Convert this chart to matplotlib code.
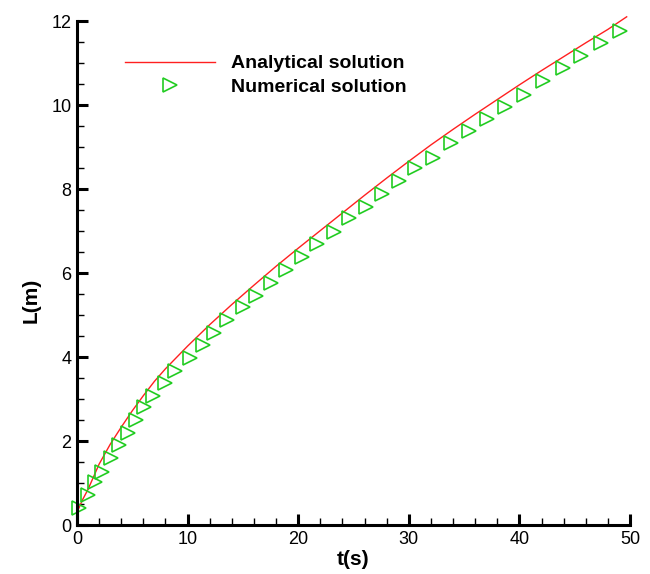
import matplotlib
matplotlib.use("Agg")
import matplotlib.pyplot as plt
from matplotlib.ticker import MultipleLocator

plt.rcParams['font.family'] = ['Liberation Sans', 'DejaVu Sans']

# Analytical solution
t_ana = [0, 0.5, 1, 2, 3, 4, 5, 6, 7, 8, 10, 12, 14, 16, 18, 20, 22, 24, 26, 28,
         30, 32, 34, 36, 38, 40, 42, 44, 46, 48, 49.7]
L_ana = [0.3, 0.6, 0.85, 1.45, 1.92, 2.33, 2.72, 3.08, 3.42, 3.72, 4.26, 4.77, 5.25,
         5.71, 6.16, 6.59, 7.01, 7.43, 7.85, 8.26, 8.66, 9.05, 9.42, 9.78, 10.13,
         10.48, 10.82, 11.15, 11.48, 11.8, 12.1]

# Numerical solution
t_num = [0.2, 1.0, 1.6, 2.3, 3.1, 3.8, 4.6, 5.3, 6.1, 6.9, 8.0, 8.9, 10.2, 11.4,
         12.4, 13.6, 15.0, 16.2, 17.5, 18.9, 20.3, 21.7, 23.2, 24.6, 26.1, 27.6,
         29.1, 30.6, 32.2, 33.8, 35.4, 37.1, 38.7, 40.4, 42.1, 43.9, 45.6, 47.4, 49.1]
L_num = [0.40, 0.71, 1.02, 1.27, 1.59, 1.90, 2.18, 2.50, 2.80, 3.08, 3.37, 3.67,
         3.97, 4.29, 4.58, 4.88, 5.20, 5.45, 5.77, 6.07, 6.37, 6.68, 6.98, 7.30,
         7.58, 7.88, 8.19, 8.49, 8.75, 9.09, 9.37, 9.66, 9.96, 10.25, 10.57, 10.87,
         11.17, 11.47, 11.77]

fig = plt.figure(figsize=(6.5, 5.74), dpi=100)
ax = fig.add_axes([77/650, 49/574, 553/650, 504/574])

ax.plot(t_ana, L_ana, color='#ff2020', lw=1.0, label='Analytical solution',
        clip_on=False)
ax.plot(t_num, L_num, linestyle='none', marker='>', markersize=9.5,
        markerfacecolor='none', markeredgecolor='#22cc22', markeredgewidth=1.2,
        label='Numerical solution', clip_on=False)

ax.set_xlim(0, 50)
ax.set_ylim(0, 12)
ax.xaxis.set_major_locator(MultipleLocator(10))
ax.xaxis.set_minor_locator(MultipleLocator(2))
ax.yaxis.set_major_locator(MultipleLocator(2))
ax.yaxis.set_minor_locator(MultipleLocator(0.5))

for s in ['top', 'right']:
    ax.spines[s].set_visible(False)
for s in ['left', 'bottom']:
    ax.spines[s].set_linewidth(2.2)
    ax.spines[s].set_zorder(3)

ax.tick_params(which='major', direction='in', length=8, width=2.2, labelsize=13, pad=4)
ax.tick_params(which='minor', direction='in', length=5, width=1.0)

ax.set_xlabel('t(s)', fontsize=15, fontweight='bold', labelpad=2)
ax.set_ylabel('L(m)', fontsize=15, fontweight='bold', labelpad=6)
ax.yaxis.set_label_coords(-0.066, 0.446)

leg = ax.legend(loc='upper left', bbox_to_anchor=(0.0868, 0.933), frameon=False,
                handlelength=4.63, handletextpad=0.8, borderpad=0, borderaxespad=0,
                numpoints=1, labelspacing=0.3,
                prop={'size': 14, 'weight': 'bold'})

fig.savefig('out.png', dpi=100)
